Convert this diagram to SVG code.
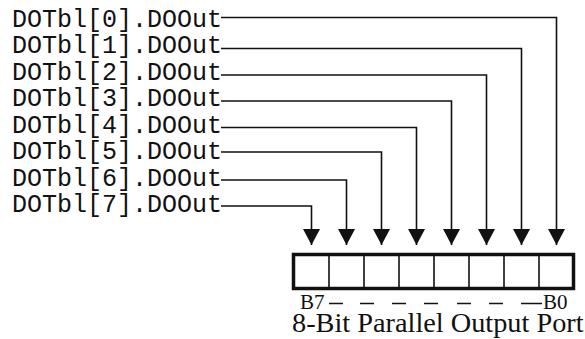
<svg xmlns="http://www.w3.org/2000/svg" width="585" height="339" viewBox="0 0 585 339">
<style>
.lbl{font-family:"Liberation Mono","Courier New",monospace;font-size:25px;fill:#111}
.cap{font-family:"Liberation Serif","Times New Roman",serif;fill:#111}
.wire{fill:none;stroke:#111;stroke-width:1.6}
.cell{fill:none;stroke:#111;stroke-width:1.6}
</style>
<defs>
<marker id="ah" viewBox="0 0 16 17" refX="16" refY="8.5" markerWidth="16" markerHeight="17" markerUnits="userSpaceOnUse" orient="auto">
<path d="M0,0 L16,8.5 L0,17 z" fill="#111"/>
</marker>
</defs>
<rect width="585" height="339" fill="#fff"/>
<g id="node-dotbl0"><text class="lbl" x="12" y="26.5">DOTbl[0].DOOut</text></g>
<g id="node-dotbl1"><text class="lbl" x="12" y="53">DOTbl[1].DOOut</text></g>
<g id="node-dotbl2"><text class="lbl" x="12" y="79.5">DOTbl[2].DOOut</text></g>
<g id="node-dotbl3"><text class="lbl" x="12" y="106">DOTbl[3].DOOut</text></g>
<g id="node-dotbl4"><text class="lbl" x="12" y="132.5">DOTbl[4].DOOut</text></g>
<g id="node-dotbl5"><text class="lbl" x="12" y="159">DOTbl[5].DOOut</text></g>
<g id="node-dotbl6"><text class="lbl" x="12" y="185.5">DOTbl[6].DOOut</text></g>
<g id="node-dotbl7"><text class="lbl" x="12" y="212">DOTbl[7].DOOut</text></g>
<g id="connectors">
<path class="wire" marker-end="url(#ah)" d="M221,17.5 H556.5 V245"/>
<path class="wire" marker-end="url(#ah)" d="M221,48.5 H521.5 V245"/>
<path class="wire" marker-end="url(#ah)" d="M221,75 H486.5 V245"/>
<path class="wire" marker-end="url(#ah)" d="M221,101 H451.5 V245"/>
<path class="wire" marker-end="url(#ah)" d="M221,127.5 H416.5 V245"/>
<path class="wire" marker-end="url(#ah)" d="M221,152 H381.5 V245"/>
<path class="wire" marker-end="url(#ah)" d="M221,180 H346.5 V245"/>
<path class="wire" marker-end="url(#ah)" d="M221,206 H311.5 V245"/>
</g>
<g id="node-port">
<path class="cell" d="M329,254.5V289 M364,254.5V289 M399,254.5V289 M434,254.5V289 M469,254.5V289 M504,254.5V289 M539,254.5V289"/>
<rect x="293.5" y="254.5" width="280" height="34" fill="none" stroke="#111" stroke-width="3.5"/>
<text class="cap" x="300" y="309" font-size="21">B7</text>
<path class="wire" d="M329,303.5h14 M360,303.5h14 M392,303.5h14 M424,303.5h14 M457,303.5h14 M489,303.5h14 M521,303.5h21"/>
<text class="cap" x="543" y="309" font-size="21">B0</text>
<text class="cap" x="292" y="332" font-size="28.3">8-Bit Parallel Output Port</text>
</g>
</svg>
